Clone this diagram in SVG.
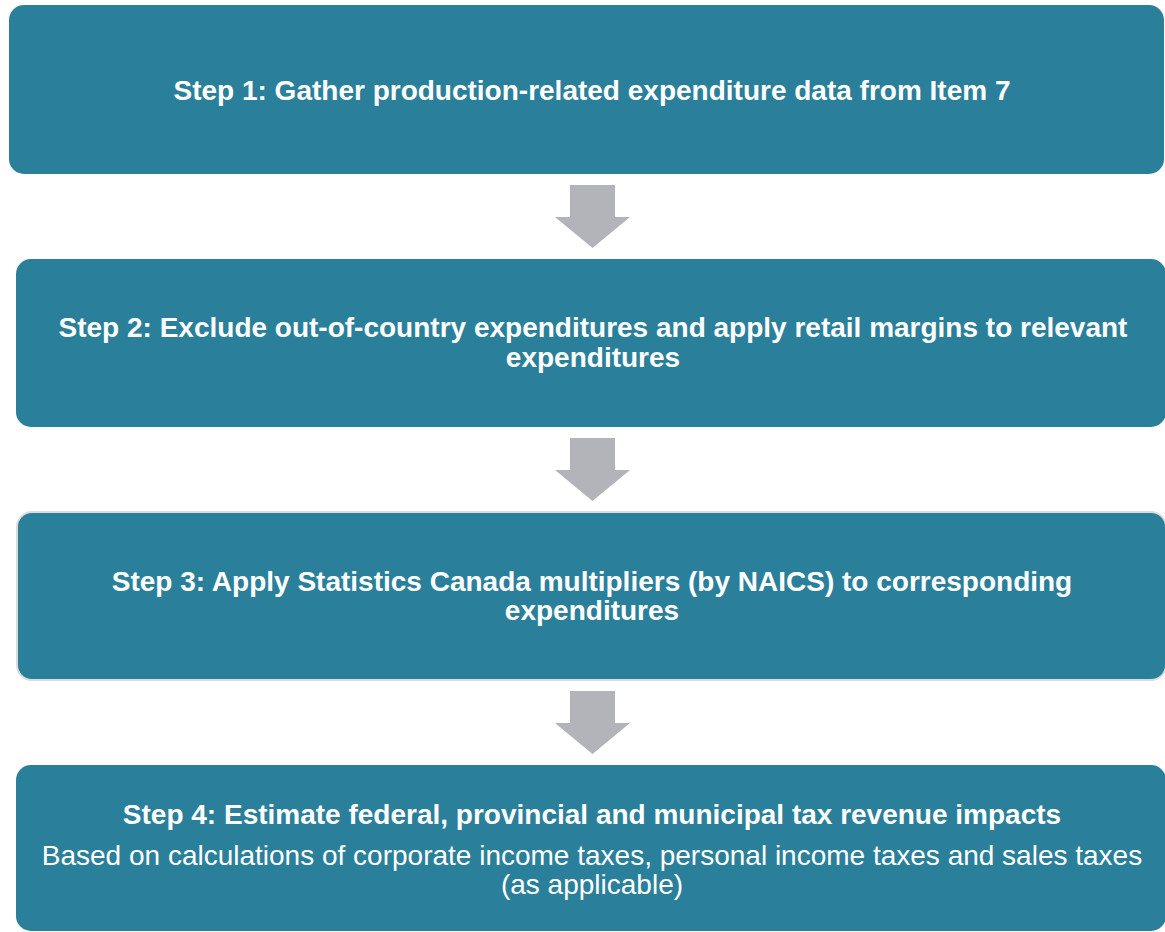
<svg xmlns="http://www.w3.org/2000/svg" width="1165" height="932" viewBox="0 0 1165 932">
<style>
.box{fill:#2A7F9B}
.b3{stroke:#DCDCDC;stroke-width:2}
.arrow{fill:#B2B4BA}
text{font-family:"Liberation Sans",Arial,sans-serif;fill:#FFFFFF;text-anchor:middle;font-size:28px}
.bold{font-weight:bold}
</style>
<rect width="1165" height="932" fill="#FFFFFF"/>
<g id="step1">
<rect class="box" x="9" y="5" width="1155" height="169" rx="15"/>
<text class="bold" x="592" y="100">Step 1: Gather production-related expenditure data from Item 7</text>
</g>
<g id="step2">
<rect class="box" x="16" y="259" width="1150" height="168" rx="15"/>
<text class="bold" x="593" y="337">Step 2: Exclude out-of-country expenditures and apply retail margins to relevant</text>
<text class="bold" x="593" y="367">expenditures</text>
</g>
<g id="step3">
<rect class="box b3" x="17" y="512" width="1149" height="168" rx="15"/>
<text class="bold" x="592" y="591">Step 3: Apply Statistics Canada multipliers (by NAICS) to corresponding</text>
<text class="bold" x="592" y="620">expenditures</text>
</g>
<g id="step4">
<rect class="box" x="16" y="765" width="1150" height="166" rx="15"/>
<text class="bold" x="592" y="824">Step 4: Estimate federal, provincial and municipal tax revenue impacts</text>
<text x="592" y="865">Based on calculations of corporate income taxes, personal income taxes and sales taxes</text>
<text x="592" y="894">(as applicable)</text>
</g>
<g id="connectors">
<polygon class="arrow" points="570,185 615,185 615,217 630,217 592.5,248 555,217 570,217"/>
<polygon class="arrow" points="570,438 615,438 615,470 630,470 592.5,501 555,470 570,470"/>
<polygon class="arrow" points="570,691 615,691 615,723 630,723 592.5,754 555,723 570,723"/>
</g>
</svg>
